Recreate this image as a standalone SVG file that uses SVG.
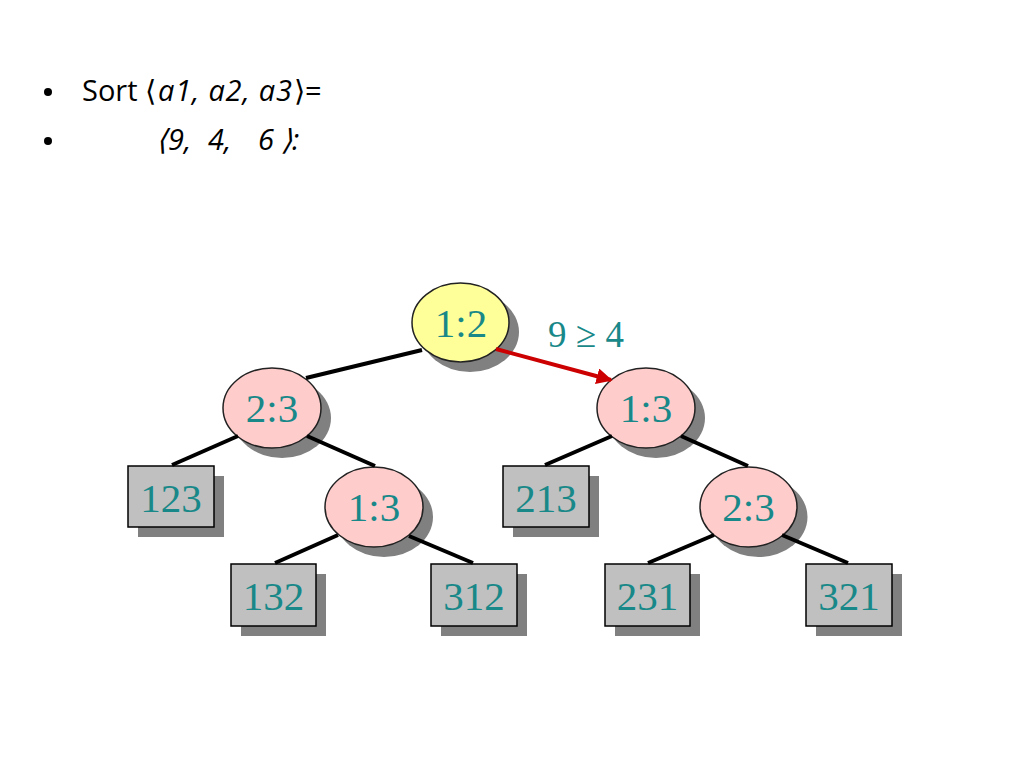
<svg xmlns="http://www.w3.org/2000/svg" width="1024" height="768" viewBox="0 0 1024 768">
<style>
.bul{font-family:"Open Sans","Liberation Sans",sans-serif;font-size:29px;fill:#000;white-space:pre}
.it{font-style:italic}
.lbl{font-family:"Liberation Serif","Times New Roman",serif;font-size:41px;fill:#188888;text-anchor:middle}
.shd{fill:#808080}
.dec-y{fill:#ffff99;stroke:#222;stroke-width:1.5}
.dec-p{fill:#ffcccc;stroke:#222;stroke-width:1.5}
.leaf{fill:#c0c0c0;stroke:#000;stroke-width:1.5}
.edge{stroke:#000;stroke-width:4;fill:none}
.hl{stroke:#cc0000;stroke-width:4;fill:none}
</style>
<defs>
<marker id="arr" viewBox="0 0 10 10" refX="9" refY="5" markerWidth="4" markerHeight="4" orient="auto" markerUnits="strokeWidth">
<path d="M0,0 L10,5 L0,10 z" fill="#cc0000"/>
</marker>
</defs>
<rect width="1024" height="768" fill="#fff"/>
<g id="bullets">
<circle cx="48" cy="92" r="4" fill="#000"/>
<circle cx="48" cy="141" r="4" fill="#000"/>
<text class="bul" y="101"><tspan x="82">Sort</tspan><tspan x="145">⟨</tspan><tspan class="it" x="158" textLength="134" lengthAdjust="spacing">a1, a2, a3</tspan><tspan x="294">⟩=</tspan></text>
<text class="bul it" y="150"><tspan x="156">⟨</tspan><tspan x="168">9,</tspan><tspan x="208">4,</tspan><tspan x="258">6</tspan><tspan x="281">⟩:</tspan></text>
</g>
<text id="edge-label" class="lbl" x="586" y="347" style="font-size:37px">9 ≥ 4</text>
<g id="n12">
<ellipse class="shd" cx="470" cy="332" rx="49" ry="40"/>
<ellipse class="dec-y" cx="460.5" cy="322.5" rx="48.5" ry="39.5"/>
<text class="lbl" x="461" y="337">1:2</text>
</g>
<g id="n23a">
<ellipse class="shd" cx="282" cy="418" rx="49" ry="40"/>
<ellipse class="dec-p" cx="272" cy="408" rx="49" ry="40"/>
<text class="lbl" x="272" y="422">2:3</text>
</g>
<g id="n13a">
<ellipse class="shd" cx="656" cy="418" rx="49" ry="40"/>
<ellipse class="dec-p" cx="646" cy="408" rx="49" ry="40"/>
<text class="lbl" x="646" y="422">1:3</text>
</g>
<g id="n13b">
<ellipse class="shd" cx="384" cy="517" rx="49" ry="40"/>
<ellipse class="dec-p" cx="374" cy="507" rx="49" ry="40"/>
<text class="lbl" x="374" y="521">1:3</text>
</g>
<g id="n23b">
<ellipse class="shd" cx="758.5" cy="517" rx="49" ry="40"/>
<ellipse class="dec-p" cx="748.5" cy="507" rx="48.5" ry="40"/>
<text class="lbl" x="748.5" y="521">2:3</text>
</g>
<g id="l123">
<rect class="shd" x="138" y="476" width="86" height="61"/>
<rect class="leaf" x="128" y="466" width="86" height="61"/>
<text class="lbl" x="171" y="512">123</text>
</g>
<g id="l213">
<rect class="shd" x="513" y="476" width="86" height="61"/>
<rect class="leaf" x="503" y="466" width="86" height="61"/>
<text class="lbl" x="546" y="512">213</text>
</g>
<g id="l132">
<rect class="shd" x="241" y="574" width="85" height="62"/>
<rect class="leaf" x="231" y="564" width="85" height="62"/>
<text class="lbl" x="273.5" y="610">132</text>
</g>
<g id="l312">
<rect class="shd" x="441" y="574" width="86" height="62"/>
<rect class="leaf" x="431" y="564" width="86" height="62"/>
<text class="lbl" x="474" y="610">312</text>
</g>
<g id="l231">
<rect class="shd" x="615" y="574" width="85" height="62"/>
<rect class="leaf" x="605" y="564" width="85" height="62"/>
<text class="lbl" x="647.5" y="610">231</text>
</g>
<g id="l321">
<rect class="shd" x="816" y="574" width="86" height="62"/>
<rect class="leaf" x="806" y="564" width="86" height="62"/>
<text class="lbl" x="849" y="610">321</text>
</g>
<g id="connectors">
<line class="edge" x1="306" y1="378" x2="422" y2="350"/>
<line class="hl" x1="496" y1="349" x2="611" y2="380" marker-end="url(#arr)"/>
<line class="edge" x1="172" y1="465" x2="238" y2="436"/>
<line class="edge" x1="307" y1="436" x2="375" y2="466"/>
<line class="edge" x1="275" y1="563" x2="338" y2="535"/>
<line class="edge" x1="409" y1="536" x2="473" y2="563"/>
<line class="edge" x1="545" y1="465" x2="612" y2="436"/>
<line class="edge" x1="681" y1="436" x2="748" y2="466"/>
<line class="edge" x1="648" y1="563" x2="714" y2="535"/>
<line class="edge" x1="782" y1="535" x2="848" y2="563"/>
</g>
</svg>
